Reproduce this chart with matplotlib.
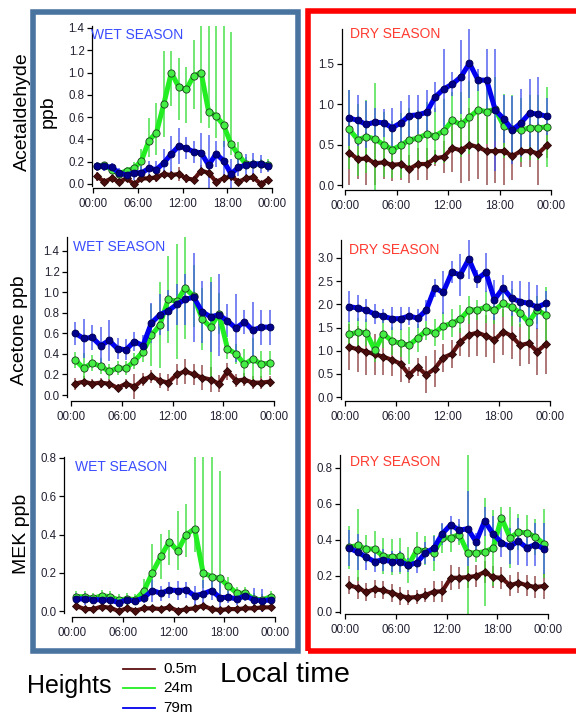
import numpy as np
import matplotlib
matplotlib.use("Agg")
from matplotlib import pyplot as plt
from matplotlib.patches import Rectangle
from matplotlib.lines import Line2D

plt.rcParams["font.family"] = ["Liberation Sans", "DejaVu Sans"]

hours = np.arange(24) + 0.5
time_ticks = [0, 6, 12, 18, 24]
time_labels = ["00:00", "06:00", "12:00", "18:00", "00:00"]
height_labels = ["0.5m", "24m", "79m"]

# acetaldehyde, wet season
wet_acet_05 = [0.07, 0.02, 0.05, 0.02, 0.05, 0.00, 0.05, 0.05, 0.06, 0.09, 0.08, 0.09,
               0.05, 0.04, 0.12, 0.10, 0.02, 0.05, 0.07, 0.02, 0.05, 0.06, 0.00, 0.04]
wet_acet_05_err = [0.04, 0.03, 0.03, 0.03, 0.03, 0.02, 0.03, 0.03, 0.04, 0.04, 0.04, 0.06,
                   0.04, 0.03, 0.05, 0.05, 0.03, 0.04, 0.04, 0.03, 0.03, 0.04, 0.03, 0.03]
wet_acet_24 = [0.16, 0.17, 0.13, 0.09, 0.12, 0.14, 0.21, 0.39, 0.46, 0.72, 1.00, 0.87,
               0.85, 0.97, 1.00, 0.65, 0.61, 0.53, 0.36, 0.26, 0.18, 0.18, 0.18, 0.17]
wet_acet_24_err = [0.03, 0.03, 0.03, 0.02, 0.03, 0.06, 0.08, 0.15, 0.20, 0.30, 0.30, 0.30,
                   0.30, 0.30, 0.45, 0.15, 0.20, 0.20, 0.10, 0.10, 0.05, 0.04, 0.04, 0.05]
wet_acet_24_err_up = [0.03, 0.03, 0.03, 0.02, 0.03, 0.06, 0.10, 0.20, 0.27, 0.47, 0.19, 0.26,
                      0.20, 0.32, 0.60, 0.80, 0.85, 0.90, 1.00, 0.12, 0.06, 0.04, 0.04, 0.05]
wet_acet_79 = [0.16, 0.16, 0.15, 0.10, 0.08, 0.10, 0.10, 0.14, 0.13, 0.19, 0.27, 0.34,
               0.32, 0.29, 0.28, 0.17, 0.27, 0.21, 0.09, 0.15, 0.17, 0.18, 0.18, 0.16]
wet_acet_79_err = [0.04, 0.04, 0.04, 0.04, 0.05, 0.06, 0.06, 0.07, 0.08, 0.12, 0.16, 0.16,
                   0.10, 0.10, 0.18, 0.27, 0.12, 0.18, 0.13, 0.08, 0.10, 0.10, 0.08, 0.05]

# acetaldehyde, dry season
dry_acet_05 = [0.40, 0.32, 0.33, 0.27, 0.28, 0.25, 0.26, 0.20, 0.26, 0.26, 0.33, 0.35,
               0.46, 0.43, 0.50, 0.47, 0.42, 0.42, 0.42, 0.36, 0.42, 0.42, 0.39, 0.49]
dry_acet_05_err = [0.40, 0.25, 0.33, 0.27, 0.20, 0.20, 0.20, 0.17, 0.20, 0.20, 0.10, 0.20,
                   0.30, 0.40, 0.45, 0.40, 0.42, 0.40, 0.42, 0.30, 0.20, 0.20, 0.39, 0.15]
dry_acet_24 = [0.69, 0.56, 0.60, 0.57, 0.50, 0.44, 0.49, 0.56, 0.58, 0.63, 0.61, 0.67,
               0.80, 0.75, 0.84, 0.93, 0.91, 0.94, 0.73, 0.70, 0.68, 0.71, 0.71, 0.72]
dry_acet_24_err = [0.49, 0.45, 0.45, 0.70, 0.40, 0.35, 0.40, 0.40, 0.35, 0.40, 0.35, 0.40,
                   0.35, 0.40, 0.45, 0.45, 0.40, 0.40, 0.40, 0.42, 0.40, 0.40, 0.40, 0.50]
dry_acet_79 = [0.83, 0.80, 0.75, 0.78, 0.77, 0.71, 0.77, 0.86, 0.87, 0.90, 1.09, 1.19,
               1.25, 1.34, 1.51, 1.30, 1.30, 0.93, 0.82, 0.68, 0.77, 0.89, 0.88, 0.85]
dry_acet_79_err = [0.35, 0.32, 0.29, 0.17, 0.17, 0.25, 0.27, 0.26, 0.24, 0.28, 0.19, 0.49,
                   0.15, 0.46, 0.43, 0.14, 0.38, 0.76, 0.30, 0.42, 0.42, 0.42, 0.46, 0.23]

# acetone, wet season
wet_acetone_05 = [0.11, 0.13, 0.11, 0.12, 0.11, 0.07, 0.11, 0.08, 0.15, 0.18, 0.14, 0.12,
                  0.20, 0.23, 0.20, 0.17, 0.15, 0.11, 0.23, 0.14, 0.15, 0.12, 0.12, 0.13]
wet_acetone_05_err = [0.06, 0.05, 0.05, 0.05, 0.05, 0.04, 0.05, 0.12, 0.06, 0.06, 0.07, 0.08,
                      0.10, 0.12, 0.10, 0.12, 0.12, 0.08, 0.08, 0.06, 0.06, 0.06, 0.06, 0.05]
wet_acetone_24 = [0.34, 0.26, 0.31, 0.28, 0.23, 0.26, 0.26, 0.33, 0.42, 0.58, 0.68, 0.93,
                  0.91, 1.04, 0.96, 0.74, 0.66, 0.79, 0.45, 0.40, 0.30, 0.35, 0.30, 0.31]
wet_acetone_24_err = [0.08, 0.15, 0.08, 0.08, 0.07, 0.07, 0.07, 0.08, 0.10, 0.30, 0.42, 0.42,
                      0.56, 0.50, 0.30, 0.30, 0.49, 0.20, 0.10, 0.10, 0.15, 0.20, 0.13, 0.12]
wet_acetone_79 = [0.60, 0.55, 0.56, 0.48, 0.53, 0.45, 0.44, 0.52, 0.48, 0.70, 0.78, 0.82,
                  0.88, 0.93, 0.95, 0.81, 0.76, 0.78, 0.72, 0.65, 0.71, 0.63, 0.66, 0.66]
wet_acetone_79_err = [0.11, 0.19, 0.12, 0.18, 0.20, 0.10, 0.10, 0.09, 0.10, 0.19, 0.20, 0.20,
                      0.20, 0.25, 0.43, 0.30, 0.34, 0.40, 0.16, 0.33, 0.12, 0.27, 0.17, 0.17]

# acetone, dry season
dry_acetone_05 = [1.08, 1.03, 0.98, 0.92, 0.87, 0.80, 0.72, 0.48, 0.65, 0.48, 0.61, 0.85,
                  0.93, 1.19, 1.34, 1.39, 1.32, 1.23, 1.41, 1.32, 1.12, 1.16, 0.98, 1.14]
dry_acetone_05_err = [0.50, 0.50, 0.50, 0.45, 0.40, 0.35, 0.40, 0.17, 0.20, 0.40, 0.40, 0.30,
                      0.30, 0.30, 0.47, 0.50, 0.45, 0.50, 0.50, 0.50, 0.45, 0.45, 0.50, 0.64]
dry_acetone_24 = [1.35, 1.40, 1.39, 1.01, 1.36, 1.21, 1.16, 1.12, 1.27, 1.43, 1.39, 1.53,
                  1.59, 1.68, 1.88, 1.88, 1.94, 1.87, 2.02, 1.94, 1.82, 1.61, 1.88, 1.77]
dry_acetone_24_err = [0.30, 0.30, 0.30, 0.25, 0.30, 0.30, 0.30, 0.40, 0.30, 0.20, 0.30, 0.30,
                      0.30, 0.30, 0.30, 0.22, 0.34, 0.30, 0.30, 0.40, 0.30, 0.40, 0.30, 0.60]
dry_acetone_79 = [1.95, 1.92, 1.87, 1.79, 1.74, 1.69, 1.69, 1.75, 1.70, 1.87, 2.35, 2.26,
                  2.69, 2.64, 2.98, 2.55, 2.69, 2.10, 2.35, 2.13, 2.06, 2.02, 1.94, 2.02]
dry_acetone_79_err = [0.33, 0.28, 0.25, 0.22, 0.15, 0.25, 0.25, 0.20, 0.20, 0.23, 0.20, 0.46,
                      0.24, 0.45, 0.43, 0.20, 0.42, 0.43, 0.29, 0.38, 0.45, 0.47, 0.47, 0.26]

# MEK, wet season
wet_mek_05 = [0.026, 0.010, 0.010, 0.023, 0.017, 0.000, 0.014, 0.002, 0.014, 0.014, 0.010, 0.019,
              0.002, 0.009, 0.014, 0.028, 0.010, 0.005, 0.010, 0.010, 0.014, 0.014, 0.019, 0.019]
wet_mek_05_err = [0.015, 0.012, 0.012, 0.015, 0.012, 0.010, 0.012, 0.010, 0.012, 0.012, 0.012, 0.015,
                  0.010, 0.012, 0.015, 0.015, 0.012, 0.010, 0.012, 0.012, 0.012, 0.012, 0.012, 0.012]
wet_mek_24 = [0.075, 0.075, 0.066, 0.080, 0.075, 0.058, 0.063, 0.060, 0.105, 0.200, 0.285, 0.363,
              0.314, 0.400, 0.430, 0.200, 0.180, 0.170, 0.130, 0.093, 0.093, 0.063, 0.058, 0.075]
wet_mek_24_err = [0.03, 0.03, 0.03, 0.03, 0.03, 0.03, 0.03, 0.03, 0.06, 0.10, 0.12, 0.12,
                  0.10, 0.12, 0.12, 0.08, 0.06, 0.08, 0.05, 0.03, 0.03, 0.03, 0.03, 0.03]
wet_mek_24_err_up = [0.03, 0.03, 0.03, 0.03, 0.03, 0.03, 0.03, 0.03, 0.06, 0.15, 0.12, 0.06,
                     0.21, 0.16, 0.45, 0.65, 0.65, 0.56, 0.05, 0.03, 0.03, 0.03, 0.03, 0.03]
wet_mek_79 = [0.063, 0.063, 0.060, 0.058, 0.058, 0.044, 0.058, 0.052, 0.070, 0.107, 0.093, 0.110,
              0.107, 0.110, 0.080, 0.090, 0.107, 0.070, 0.072, 0.063, 0.080, 0.058, 0.054, 0.058]
wet_mek_79_err = [0.03, 0.03, 0.02, 0.02, 0.02, 0.02, 0.02, 0.02, 0.03, 0.06, 0.04, 0.04,
                  0.05, 0.04, 0.05, 0.07, 0.05, 0.09, 0.03, 0.03, 0.03, 0.06, 0.06, 0.03]

# MEK, dry season
dry_mek_05 = [0.148, 0.135, 0.111, 0.126, 0.120, 0.107, 0.090, 0.080, 0.083, 0.094, 0.113, 0.115,
              0.190, 0.190, 0.194, 0.200, 0.222, 0.194, 0.190, 0.148, 0.163, 0.148, 0.139, 0.144]
dry_mek_05_err = [0.05, 0.06, 0.05, 0.05, 0.05, 0.05, 0.05, 0.04, 0.04, 0.04, 0.06, 0.06,
                  0.07, 0.06, 0.06, 0.06, 0.06, 0.06, 0.06, 0.06, 0.06, 0.06, 0.06, 0.07]
dry_mek_24 = [0.360, 0.370, 0.350, 0.350, 0.310, 0.305, 0.310, 0.260, 0.346, 0.340, 0.330, 0.410,
              0.413, 0.430, 0.330, 0.328, 0.335, 0.354, 0.524, 0.413, 0.443, 0.440, 0.417, 0.380]
dry_mek_24_err = [0.12, 0.20, 0.08, 0.10, 0.10, 0.10, 0.10, 0.10, 0.10, 0.08, 0.10, 0.08,
                  0.08, 0.06, 0.54, 0.05, 0.30, 0.21, 0.06, 0.17, 0.10, 0.10, 0.10, 0.19]
dry_mek_79 = [0.355, 0.333, 0.305, 0.280, 0.290, 0.280, 0.280, 0.260, 0.274, 0.328, 0.355, 0.435,
              0.485, 0.454, 0.463, 0.390, 0.505, 0.435, 0.385, 0.365, 0.393, 0.357, 0.374, 0.352]
dry_mek_79_err = [0.10, 0.10, 0.07, 0.06, 0.06, 0.06, 0.06, 0.04, 0.06, 0.06, 0.07, 0.06,
                  0.05, 0.06, 0.21, 0.05, 0.08, 0.10, 0.08, 0.10, 0.13, 0.10, 0.12, 0.14]

W, H = 576, 716
line_colors = ["#5c1010", "#22ee22", "#0000ee"]
bar_colors = ["#8b3a3a", "#33dd33", "#3f4ff0"]
marker_styles = [("D", 4.0, "#4a0d0d", "#2a0505"),
                 ("o", 5.2, "#44ee44", "#1d3a1d"),
                 ("o", 5.0, "#00008b", "#000050")]


def fx(px):
    return px / W


def fy(px):
    return 1 - px / H


def draw_panel(fig, layout, series, yticks):
    # layout in pixels: y axis x, x of 00:00, x of 24:00, y of zero, y of axis top,
    # reference tick y pixel and its value, x axis y pixel
    yax, x0, x24, y0, ytop, yref_px, yref_val, xax = layout
    yscale = (y0 - yref_px) / yref_val
    top_val = (y0 - ytop) / yscale
    bot_val = -(xax - y0) / yscale
    xscale = (x24 - x0) / 24
    ax = fig.add_axes([fx(yax), fy(xax), fx(x24 - yax), (xax - ytop) / H])
    ax.set_xlim(-(x0 - yax) / xscale, 24)
    ax.set_ylim(bot_val, top_val)
    ax.patch.set_visible(False)

    for i, (mean, err) in enumerate(series):
        ax.errorbar(hours, mean, yerr=err, fmt="none", ecolor=bar_colors[i],
                    elinewidth=1.3, alpha=0.75, capsize=0, zorder=1)
    for i, (mean, err) in enumerate(series):
        m, ms, mfc, mec = marker_styles[i]
        ax.plot(hours, mean, color=line_colors[i], lw=3.6 if i else 3.0,
                marker=m, ms=ms, mfc=mfc, mec=mec, mew=0.6,
                zorder=3 + i, clip_on=False)

    for s in ["top", "right"]:
        ax.spines[s].set_visible(False)
    ax.spines["left"].set_bounds(bot_val * 0.4, top_val)
    ax.spines["bottom"].set_bounds(0, 24)
    ax.spines["left"].set_linewidth(0.9)
    ax.spines["bottom"].set_linewidth(0.9)
    ax.set_xticks(time_ticks)
    ax.set_xticklabels(time_labels)
    ax.set_yticks(yticks)
    ax.set_yticklabels(["%.1f" % t for t in yticks])
    ax.tick_params(direction="out", length=3.5, width=0.9, pad=1.8,
                   labelsize=8.3, labelcolor="#222233")
    ax.tick_params(axis="x", pad=3.5)
    return ax


fig = plt.figure(figsize=(5.76, 7.16), dpi=100)

panels = [
    ((92, 93, 272, 184, 26, 28, 1.4, 188),
     [(wet_acet_05, wet_acet_05_err),
      (wet_acet_24, [wet_acet_24_err, wet_acet_24_err_up]),
      (wet_acet_79, wet_acet_79_err)],
     [0, 0.2, 0.4, 0.6, 0.8, 1.0, 1.2, 1.4], "wet", (91, 35)),
    ((342, 345, 551, 185, 29, 64, 1.5, 190),
     [(dry_acet_05, dry_acet_05_err),
      (dry_acet_24, dry_acet_24_err),
      (dry_acet_79, dry_acet_79_err)],
     [0, 0.5, 1.0, 1.5], "dry", (350, 34)),
    ((67, 71, 274, 395, 237, 251, 1.4, 401),
     [(wet_acetone_05, wet_acetone_05_err),
      (wet_acetone_24, wet_acetone_24_err),
      (wet_acetone_79, wet_acetone_79_err)],
     [0, 0.2, 0.4, 0.6, 0.8, 1.0, 1.2, 1.4], "wet", (73, 247)),
    ((341, 345, 550, 397, 240, 258, 3.0, 401),
     [(dry_acetone_05, dry_acetone_05_err),
      (dry_acetone_24, dry_acetone_24_err),
      (dry_acetone_79, dry_acetone_79_err)],
     [0, 0.5, 1.0, 1.5, 2.0, 2.5, 3.0], "dry", (349, 250)),
    ((64, 72, 275, 611, 457, 458, 0.8, 617),
     [(wet_mek_05, wet_mek_05_err),
      (wet_mek_24, [wet_mek_24_err, wet_mek_24_err_up]),
      (wet_mek_79, wet_mek_79_err)],
     [0, 0.2, 0.4, 0.6, 0.8], "wet", (75, 467)),
    ((340, 345, 548, 612, 455, 468, 0.8, 614),
     [(dry_mek_05, dry_mek_05_err),
      (dry_mek_24, dry_mek_24_err),
      (dry_mek_79, dry_mek_79_err)],
     [0, 0.2, 0.4, 0.6, 0.8], "dry", (350, 462)),
]

for layout, series, yticks, season, (tx, ty) in panels:
    draw_panel(fig, layout, series, yticks)
    if season == "wet":
        fig.text(fx(tx), fy(ty), "WET SEASON", color="#3a4cff", fontsize=10,
                 ha="left", va="center")
    else:
        fig.text(fx(tx), fy(ty), "DRY SEASON", color="#ff3b30", fontsize=10,
                 ha="left", va="center")

# y axis titles
fig.text(fx(22), fy(112), "Acetaldehyde", rotation=90, fontsize=14, ha="center", va="center")
fig.text(fx(48), fy(112), "ppb", rotation=90, fontsize=14, ha="center", va="center")
fig.text(fx(20), fy(330), "Acetone ppb", rotation=90, fontsize=14, ha="center", va="center")
fig.text(fx(21), fy(534), "MEK ppb", rotation=90, fontsize=14, ha="center", va="center")

# season frames
fig.add_artist(Rectangle((fx(32.5), fy(650.5)), fx(297.5 - 32.5), (650.5 - 12) / H,
                         fill=False, ec="#4a74a0", lw=4.0, transform=fig.transFigure))
fig.add_artist(Rectangle((fx(308), fy(650.5)), fx(590 - 308), (650.5 - 11) / H,
                         fill=False, ec="#ff0000", lw=4.0, transform=fig.transFigure,
                         clip_on=False))

# legend
fig.text(fx(27), fy(686), "Heights", fontsize=18, ha="left", va="center")
for i, yy in enumerate([669, 688, 708]):
    fig.add_artist(Line2D([fx(123), fx(155)], [fy(yy), fy(yy)], color=line_colors[i],
                          lw=1.3, transform=fig.transFigure))
    fig.text(fx(163), fy(yy), height_labels[i], fontsize=11, ha="left", va="center")
fig.text(fx(220), fy(675), "Local time", fontsize=20.5, ha="left", va="center")

fig.savefig("out.png", dpi=100)
